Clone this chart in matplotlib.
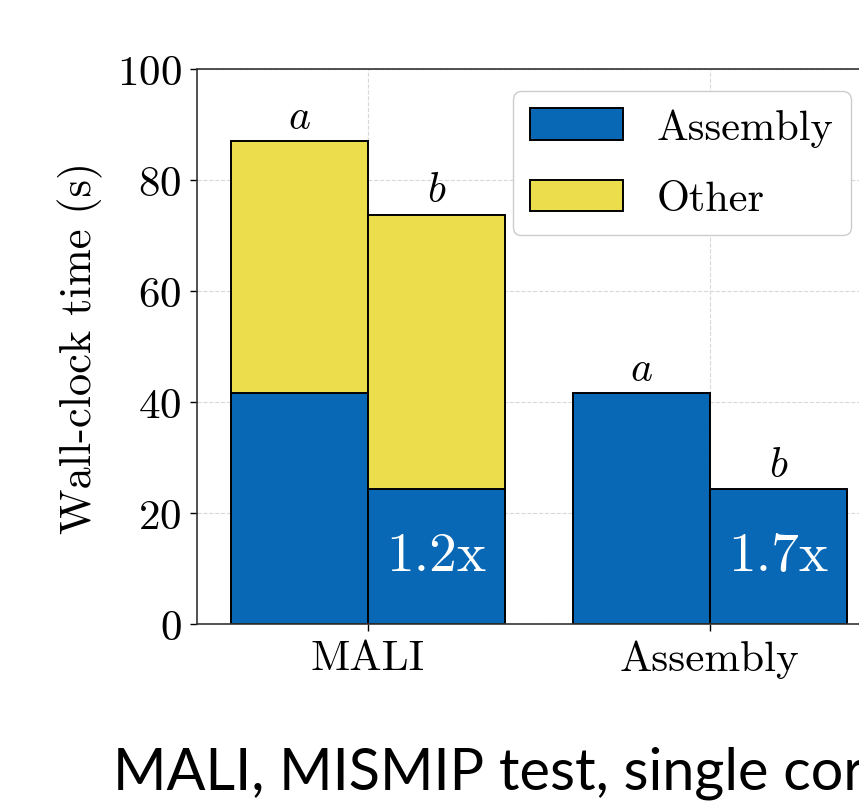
import numpy as np
import matplotlib
matplotlib.use("Agg")
import matplotlib.pyplot as plt

plt.rcParams['font.family'] = 'serif'
plt.rcParams['font.serif'] = ['cmr10']
plt.rcParams['mathtext.fontset'] = 'cm'
plt.rcParams['axes.formatter.use_mathtext'] = True

groups = ['MALI', 'Assembly']
assembly_a = [41.6, 41.6]
assembly_b = [24.3, 24.3]
other_a = [45.4, 0.0]
other_b = [49.4, 0.0]
speedups = ['1.2x', '1.7x']

blue = '#0868b5'
yellow = '#ebdd4b'

fig = plt.figure(figsize=(8.59, 8.04), dpi=100)
ax = fig.add_axes([0.2293, 0.2226, 0.7963, 0.6903])

x = np.arange(len(groups))
w = 0.4
ax.set_axisbelow(True)
ax.grid(True, linestyle='--', color='#d8d8d8', linewidth=0.8)

ax.bar(x - w / 2, assembly_a, w, color=blue, edgecolor='black', linewidth=1.4, label='Assembly')
ax.bar(x + w / 2, assembly_b, w, color=blue, edgecolor='black', linewidth=1.4)
ax.bar(x[:1] - w / 2, other_a[:1], w, bottom=assembly_a[:1], color=yellow,
       edgecolor='black', linewidth=1.4, label='Other')
ax.bar(x[:1] + w / 2, other_b[:1], w, bottom=assembly_b[:1], color=yellow,
       edgecolor='black', linewidth=1.4)

for i in range(len(groups)):
    ta = assembly_a[i] + other_a[i]
    tb = assembly_b[i] + other_b[i]
    ax.text(x[i] - w / 2, ta + 1.0, '$a$', ha='center', va='bottom', fontsize=30)
    ax.text(x[i] + w / 2, tb + 1.0, '$b$', ha='center', va='bottom', fontsize=30)
    ax.text(x[i] + w / 2, assembly_b[i] / 2, speedups[i], ha='center', va='center',
            fontsize=40, color='white')

ax.set_xlim(-0.5, 1.5)
ax.set_ylim(0, 100)
ax.set_xticks(x)
ax.set_xticklabels(groups)
ax.set_yticks([0, 20, 40, 60, 80, 100])
ax.tick_params(labelsize=31, length=5, width=1, direction='out', pad=6)
ax.set_ylabel('Wall-clock time (s)', fontsize=32, labelpad=10)
for s in ax.spines.values():
    s.set_linewidth(1.2)
    s.set_color('#333333')

leg = ax.legend(loc='upper left', bbox_to_anchor=(0.462, 0.96), borderaxespad=0,
                fontsize=30.5, handlelength=2.2, handleheight=0.77, handletextpad=0.8,
                labelspacing=0.78, borderpad=0.4, fancybox=True, framealpha=1,
                edgecolor='#cccccc')

fig.text(113 / 859, 1 - 790 / 804, 'MALI, MISMIP test, single core', fontsize=41.5,
         family=['Lato', 'DejaVu Sans'], ha='left', va='baseline')

fig.savefig('out.png', dpi=100)
